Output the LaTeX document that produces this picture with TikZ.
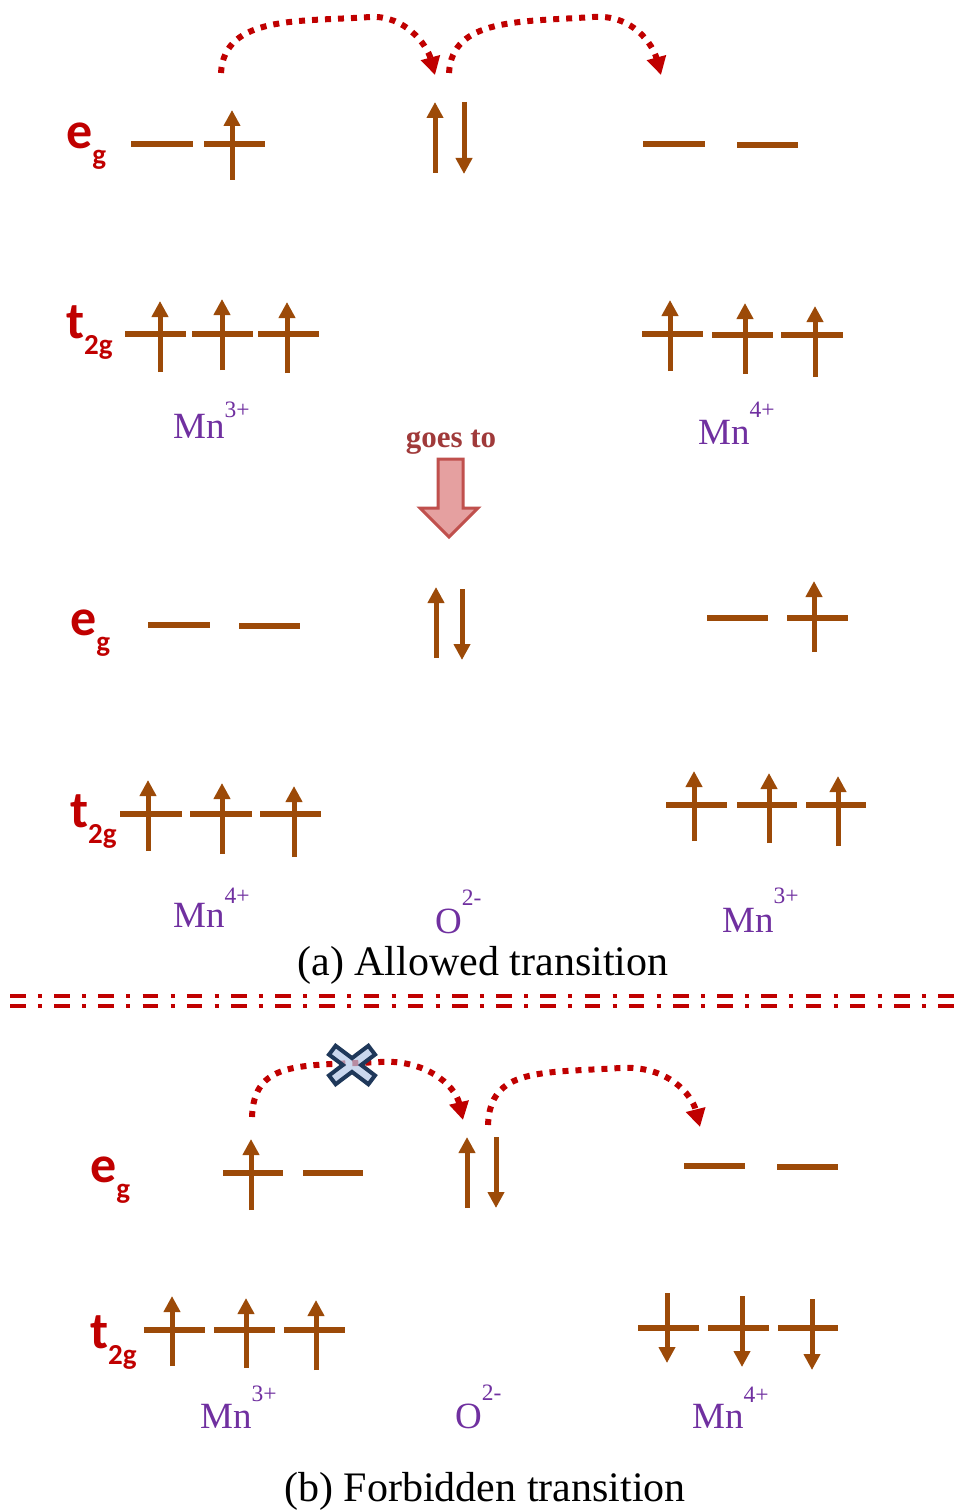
\documentclass[tikz,border=0pt]{standalone}
\usepackage{fontspec}
\setmainfont{Liberation Serif}
\newfontfamily\labelfont{Carlito}
\usetikzlibrary{arrows.meta}

\definecolor{spinbrown}{RGB}{156,74,8}
\definecolor{hopred}{RGB}{192,0,0}
\definecolor{ionpurple}{RGB}{112,48,160}
\definecolor{goesred}{RGB}{160,58,58}
\definecolor{blockfill}{RGB}{229,160,160}
\definecolor{blockedge}{RGB}{192,80,77}
\definecolor{crossfill}{RGB}{180,199,231}
\definecolor{crossedge}{RGB}{31,56,90}

% subscript of an orbital label and superscript of an ion charge
\newcommand{\orbsub}[1]{\raisebox{-16pt}{\fontsize{29}{29}\selectfont #1}}
\newcommand{\ionsup}[2]{\raisebox{#1}{\fontsize{23.5}{23.5}\selectfont #2}}

\tikzset{
  level/.style={draw=spinbrown, line width=6pt},
  spin/.style={draw=spinbrown, line width=5pt, -{Triangle[length=16pt,width=16pt]}},
  hop/.style={draw=hopred, line width=6pt, dash pattern=on 6pt off 7pt,
              -{Triangle[length=18pt,width=19pt]}},
  divider/.style={draw=hopred, line width=4pt,
                  dash pattern=on 15.5pt off 12.4pt on 4pt off 12.3pt},
  orb/.style={inner sep=0pt, anchor=base west, text=hopred,
              font=\labelfont\bfseries\fontsize{52}{52}\selectfont},
  ion/.style={inner sep=0pt, anchor=base west, text=ionpurple,
              font=\fontsize{37}{37}\selectfont},
  caption/.style={inner sep=0pt, anchor=base, font=\fontsize{42}{42}\selectfont},
}

\begin{document}
\begin{tikzpicture}[x=1pt, y=-1pt]
\fill[white] (0,0) rectangle (963,1511);
\useasboundingbox (0,0) rectangle (963,1511);

% ===================== (a) before the hop =====================
\node[orb] (egA) at (66,149) {e\orbsub{g}};
\node[orb] (tgA) at (66,338) {t\orbsub{2g}};

% left Mn3+ e_g
\draw[level] (131,144) -- (193,144);
\draw[level] (204,144) -- (265,144);
\draw[spin] (232,180) -- (232,110);
% O 2p pair
\draw[spin] (435,173) -- (435,102);
\draw[spin] (464,102) -- (464,174);
% right Mn4+ e_g
\draw[level] (643,144) -- (705,144);
\draw[level] (737,145) -- (798,145);

% left t2g
\draw[level] (125,334) -- (186,334);  \draw[spin] (160,372) -- (160,301);
\draw[level] (192,334) -- (253,334);  \draw[spin] (222,370) -- (222,299);
\draw[level] (258,334) -- (319,334);  \draw[spin] (287,373) -- (287,302);
% right t2g
\draw[level] (642,334) -- (703,334);  \draw[spin] (670,371) -- (670,300);
\draw[level] (712,335) -- (773,335);  \draw[spin] (745,374) -- (745,303);
\draw[level] (781,335) -- (843,335);  \draw[spin] (815,377) -- (815,306);

% electron hops
\coordinate (hA1s) at (221,73);  \coordinate (hA1e) at (435,75);
\coordinate (hA2s) at (449,73);  \coordinate (hA2e) at (661,75);
\draw[hop] (hA1s) .. controls (224,15) and (300,22) .. (370,17)
                  .. controls (405,15) and (427,45) .. (hA1e);
\draw[hop] (hA2s) .. controls (452,18) and (520,22) .. (593,17)
                  .. controls (633,14) and (653,45) .. (hA2e);

\node[ion] (mnA1) at (173,438) {Mn\ionsup{21pt}{3+}};
\node[ion] (mnA2) at (698,444) {Mn\ionsup{27pt}{4+}};

% ===================== goes to =====================
\node[inner sep=0pt, anchor=base, text=goesred,
      font=\bfseries\fontsize{31}{31}\selectfont] (goes) at (451,447) {goes to};
\draw[fill=blockfill, draw=blockedge, line width=3pt, line join=miter]
  (438,459) -- (463,459) -- (463,508) -- (478,508) -- (449,537)
  -- (420,508) -- (438,508) -- cycle;

% ===================== (a) after the hop =====================
\node[orb] (egB) at (70,635) {e\orbsub{g}};
\node[orb] (tgB) at (70,827) {t\orbsub{2g}};

\draw[level] (148,625) -- (210,625);
\draw[level] (239,626) -- (300,626);
\draw[spin] (436,658) -- (436,587);
\draw[spin] (462,589) -- (462,660);
\draw[level] (707,618) -- (768,618);
\draw[level] (787,618) -- (848,618);
\draw[spin] (814,652) -- (814,581);

\draw[level] (120,814) -- (182,814);  \draw[spin] (148,851) -- (148,780);
\draw[level] (190,814) -- (252,814);  \draw[spin] (222,854) -- (222,783);
\draw[level] (260,814) -- (321,814);  \draw[spin] (294,857) -- (294,786);

\draw[level] (666,805) -- (727,805);  \draw[spin] (694,841) -- (694,771);
\draw[level] (737,805) -- (797,805);  \draw[spin] (769,843) -- (769,773);
\draw[level] (806,805) -- (866,805);  \draw[spin] (838,846) -- (838,776);

\node[ion] (mnB1) at (173,927) {Mn\ionsup{24pt}{4+}};
\node[ion] (oxB)  at (435,933) {O\ionsup{28pt}{2-}};
\node[ion] (mnB2) at (722,932) {Mn\ionsup{29pt}{3+}};

\node[caption] (capA) at (483,975) {(a) Allowed transition};

% ===================== divider =====================
\coordinate (divL) at (10,996);   \coordinate (divR) at (963,996);
\coordinate (divL2) at (10,1006); \coordinate (divR2) at (963,1006);
\draw[divider] (divL) -- (divR);
\draw[divider] (divL2) -- (divR2);

% ===================== (b) forbidden =====================
\node[orb] (egC) at (90,1182) {e\orbsub{g}};
\node[orb] (tgC) at (90,1348) {t\orbsub{2g}};

\draw[level] (223,1173) -- (283,1173);
\draw[spin] (251,1210) -- (251,1139);
\draw[level] (303,1173) -- (363,1173);
\draw[spin] (467,1208) -- (467,1137);
\draw[spin] (496,1137) -- (496,1208);
\draw[level] (684,1166) -- (745,1166);
\draw[level] (777,1167) -- (838,1167);

\draw[level] (144,1330) -- (205,1330);  \draw[spin] (172,1366) -- (172,1296);
\draw[level] (214,1330) -- (275,1330);  \draw[spin] (246,1368) -- (246,1298);
\draw[level] (284,1330) -- (345,1330);  \draw[spin] (316,1370) -- (316,1300);

\draw[level] (638,1328) -- (699,1328);  \draw[spin] (667,1293) -- (667,1363);
\draw[level] (708,1328) -- (769,1328);  \draw[spin] (742,1296) -- (742,1367);
\draw[level] (778,1328) -- (838,1328);  \draw[spin] (812,1299) -- (812,1370);

\coordinate (hC1s) at (252,1117);  \coordinate (hC1e) at (463,1120);
\coordinate (hC2s) at (488,1125);  \coordinate (hC2e) at (700,1127);
\draw[hop] (hC1s) .. controls (254,1060) and (300,1066) .. (380,1062)
                  .. controls (425,1059) and (455,1085) .. (hC1e);
\draw[hop] (hC2s) .. controls (490,1068) and (540,1073) .. (620,1068)
                  .. controls (668,1065) and (692,1095) .. (hC2e);

% blocking cross on the first hop
\begin{scope}[shift={(352,1065)}]
  \filldraw[fill=crossfill, fill opacity=0.7, draw=crossedge, line width=4pt,
            line join=miter]
    (9.14,0) -- (23.0,10.44) -- (16.38,19.22) -- (0,6.88) -- (-16.38,19.22)
    -- (-23.0,10.44) -- (-9.14,0) -- (-23.0,-10.44) -- (-16.38,-19.22)
    -- (0,-6.88) -- (16.38,-19.22) -- (23.0,-10.44) -- cycle;
\end{scope}

\node[ion] (mnC1) at (200,1428) {Mn\ionsup{27pt}{3+}};
\node[ion] (oxC)  at (455,1428) {O\ionsup{28pt}{2-}};
\node[ion] (mnC2) at (692,1428) {Mn\ionsup{26pt}{4+}};

\node[caption] (capB) at (485,1501) {(b) Forbidden transition};
\end{tikzpicture}
\end{document}
